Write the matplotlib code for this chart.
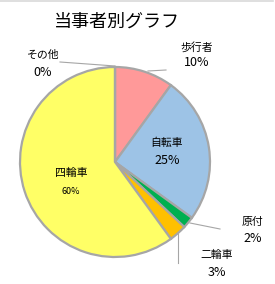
import matplotlib
matplotlib.use("Agg")
import matplotlib.pyplot as plt

plt.rcParams['font.family'] = ['Noto Sans CJK JP', 'DejaVu Sans']

categories = ['歩行者', '自転車', '原付', '二輪車', '四輪車', 'その他']
values = [10, 25, 2, 3, 60, 0]
pct_labels = ['10%', '25%', '2%', '3%', '60%', '0%']
colors = ['#FF9999', '#9DC3E6', '#00B050', '#FFC000', '#FFFF66', '#A5A5A5']
title = '当事者別グラフ'

W, H = 275, 284
fig = plt.figure(figsize=(W / 100, H / 100), dpi=100)
ax = fig.add_axes([0, 0, 1, 1])

def py(y):
    return H - y

cx, cy, r = 115, py(162), 95
ax.pie(values, colors=colors, startangle=90, counterclock=False,
       center=(cx, cy), radius=r, frame=True,
       wedgeprops=dict(edgecolor='#A6A6A6', linewidth=1.6))
ax.set_xlim(0, W)
ax.set_ylim(0, H)
ax.set_aspect('equal')
ax.axis('off')

# thin top border of the chart area
fig.add_artist(plt.Line2D([0, 273 / W], [1 - 0.5 / H, 1 - 0.5 / H],
                          transform=fig.transFigure, color='#D9D9D9', lw=1.2))

ax.text(117, py(22), title, ha='center', va='center', fontsize=13, color='black')

# label positions (name y, pct y) in pixels
pos = {
    '歩行者': (197, 47, 63),
    '自転車': (167, 143, 160),
    '原付': (253, 222, 238),
    '二輪車': (217, 255, 272),
    '四輪車': (71, 173, 192),
    'その他': (43, 55, 72),
}
for cat, pct in zip(categories, pct_labels):
    x, yn, yp = pos[cat]
    ax.text(x, py(yn), cat, ha='center', va='center', fontsize=7.8, color='black')
    fs = 6.5 if cat == '四輪車' else 9
    ax.text(x, py(yp), pct, ha='center', va='center', fontsize=fs, color='black')

lc = '#A6A6A6'
ax.plot([60, 115], [py(62), py(66)], color=lc, lw=0.8)
ax.plot([148, 166], [py(71), py(70)], color=lc, lw=0.8)
ax.plot([190, 220], [py(223), py(229)], color=lc, lw=0.8)
ax.plot([178, 178], [py(233), py(263)], color=lc, lw=0.8)

fig.savefig('out.png', dpi=100)
